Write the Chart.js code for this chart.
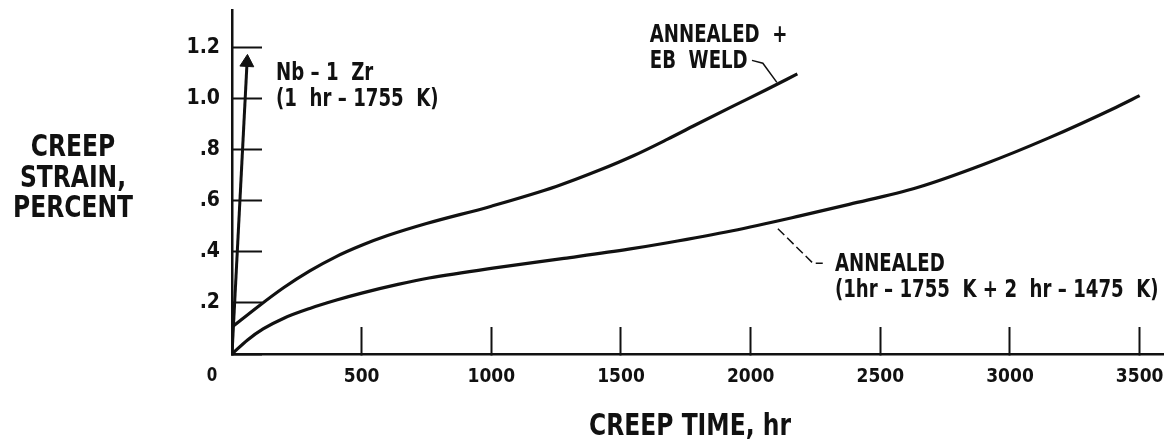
<!DOCTYPE html>
<html>
<head>
<meta charset="utf-8">
<script src="https://cdn.jsdelivr.net/npm/chart.js@4.4.1/dist/chart.umd.min.js"></script>
<style>
  html, body { margin: 0; padding: 0; background: #fff; }
  #wrap { width: 1172px; height: 446px; }
</style>
</head>
<body>
<div id="wrap"><canvas id="chart"></canvas></div>
<script>
// values (creep time in hr, creep strain in percent)
const weldTime   = [0, 100, 200, 300, 400, 500, 600, 750, 1000, 1250, 1420, 1550, 1680, 1800, 1930, 2060, 2180];
const weldStrain = [0.105, 0.185, 0.26, 0.325, 0.38, 0.425, 0.463, 0.51, 0.578, 0.655, 0.72, 0.776, 0.840, 0.902, 0.968, 1.033, 1.095];

const annealTime   = [0, 60, 120, 200, 300, 400, 500, 640, 760, 1020, 1280, 1530, 1680, 1930, 2190, 2380, 2640, 2900, 3150, 3410, 3500];
const annealStrain = [0, 0.055, 0.098, 0.14, 0.178, 0.21, 0.238, 0.272, 0.297, 0.338, 0.374, 0.41, 0.435, 0.482, 0.54, 0.585, 0.65, 0.742, 0.845, 0.965, 1.01];

const nbTime   = [0, 58];
const nbStrain = [0, 1.14];

// leader lines from the labels to the curves
const weldLeaderTime     = [2005, 2047, 2101];
const weldLeaderStrain   = [1.148, 1.137, 1.062];
const annealLeaderTime   = [2105, 2240, 2278];
const annealLeaderStrain = [0.49, 0.355, 0.355];

const xTicks = [0, 500, 1000, 1500, 2000, 2500, 3000, 3500];
const yTicks = [0, 0.2, 0.4, 0.6, 0.8, 1.0, 1.2];

const xTitle = 'CREEP TIME, hr';
const yTitle = ['CREEP', 'STRAIN,', 'PERCENT'];

const notes = [
  { x: 170,  y: 1.094, lines: ['Nb \u2013 1  Zr', '(1  hr \u2013 1755  K)'] },
  { x: 1611, y: 1.246, lines: ['ANNEALED  +', 'EB  WELD'] },
  { x: 2325, y: 0.348, lines: ['ANNEALED', '(1hr \u2013 1755  K + 2  hr \u2013 1475  K)'] }
];

const FONT = "'DejaVu Sans Condensed', 'DejaVu Sans', sans-serif";
const INK = '#111';
const SQUEEZE = 0.84;   // narrow the text a bit, the original uses a condensed face

const toPoints = (xs, ys) => xs.map((x, i) => ({ x: x, y: ys[i] }));

// draw text squeezed horizontally around its anchor
function narrowText(ctx, text, x, y, align) {
  ctx.save();
  ctx.translate(x, y);
  ctx.scale(SQUEEZE, 1);
  ctx.textAlign = align;
  ctx.fillText(text, 0, 0);
  ctx.restore();
}

const textPlugin = {
  id: 'textPlugin',
  afterDraw(chart) {
    const ctx = chart.ctx;
    const xs = chart.scales.x;
    const ys = chart.scales.y;
    ctx.save();
    ctx.fillStyle = INK;
    ctx.textBaseline = 'middle';

    // y axis title, horizontal, stacked
    ctx.font = 'bold 31px ' + FONT;
    yTitle.forEach((t, i) => narrowText(ctx, t, 73, 148 + i * 30.5, 'center'));

    // x axis title
    narrowText(ctx, xTitle, 690, 427, 'center');

    // origin "0"
    ctx.font = 'bold 20px ' + FONT;
    narrowText(ctx, '0', xs.getPixelForValue(0) - 20, 376, 'center');

    // curve labels
    ctx.font = 'bold 24px ' + FONT;
    notes.forEach(n => {
      const px = xs.getPixelForValue(n.x);
      const py = ys.getPixelForValue(n.y);
      n.lines.forEach((t, i) => narrowText(ctx, t, px, py + i * 26, 'left'));
    });
    ctx.restore();
  }
};

const lineStyle = { borderColor: INK, borderWidth: 3.2, pointRadius: 0, fill: false, cubicInterpolationMode: 'monotone' };

new Chart(document.getElementById('chart'), {
  type: 'line',
  data: {
    datasets: [
      Object.assign({ label: 'Annealed + EB weld', data: toPoints(weldTime, weldStrain) }, lineStyle),
      Object.assign({ label: 'Annealed', data: toPoints(annealTime, annealStrain) }, lineStyle),
      {
        label: 'Nb-1 Zr (1 hr - 1755 K)',
        data: toPoints(nbTime, nbStrain),
        borderColor: INK,
        backgroundColor: INK,
        borderWidth: 3,
        pointStyle: 'triangle',
        pointRadius: [0, 8],
        pointRotation: 3,
        pointBorderWidth: 1
      },
      {
        label: 'leader weld',
        data: toPoints(weldLeaderTime, weldLeaderStrain),
        borderColor: INK,
        borderWidth: 1.5,
        pointRadius: 0,
        tension: 0
      },
      {
        label: 'leader annealed',
        data: toPoints(annealLeaderTime, annealLeaderStrain),
        borderColor: INK,
        borderWidth: 1.5,
        borderDash: [9, 4],
        pointRadius: 0,
        tension: 0
      }
    ]
  },
  options: {
    responsive: true,
    maintainAspectRatio: false,
    animation: false,
    layout: { padding: { left: 0, right: 9, top: 10, bottom: 0 } },
    plugins: {
      legend: { display: false },
      tooltip: { enabled: false }
    },
    scales: {
      x: {
        type: 'linear',
        min: 0,
        max: 3590,
        afterBuildTicks: (s) => { s.ticks = xTicks.map(v => ({ value: v })); },
        afterFit: (s) => { s.height = 92; s.paddingLeft = 0; s.paddingRight = 0; },
        border: { display: true, color: INK, width: 2.5 },
        grid: { drawOnChartArea: false, drawTicks: true, tickLength: -27, tickColor: INK, tickWidth: 2 },
        ticks: {
          autoSkip: false,
          maxRotation: 0,
          padding: 39,
          color: INK,
          font: { family: FONT, size: 19, weight: 'bold' },
          callback: (v) => (v === 0 ? '' : String(v))
        }
      },
      y: {
        min: 0,
        max: 1.345,
        afterBuildTicks: (s) => { s.ticks = yTicks.map(v => ({ value: v })); },
        afterFit: (s) => { s.width = 232; s.paddingTop = 0; s.paddingBottom = 0; },
        border: { display: true, color: INK, width: 2.5 },
        grid: { drawOnChartArea: false, drawTicks: true, tickLength: -30, tickColor: INK, tickWidth: 2 },
        ticks: {
          padding: 42,
          color: INK,
          font: { family: FONT, size: 21, weight: 'bold' },
          callback: (v) => {
            if (Math.abs(v) < 1e-9) return '';
            const s = Number(v).toFixed(1);
            return v < 1 ? s.replace(/^0/, '') : s;
          }
        }
      }
    }
  },
  plugins: [textPlugin]
});
</script>
</body>
</html>
